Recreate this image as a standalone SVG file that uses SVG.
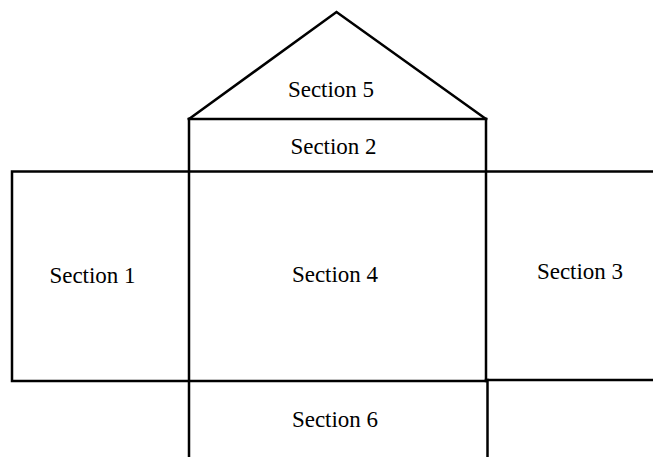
<svg xmlns="http://www.w3.org/2000/svg" width="653" height="457" viewBox="0 0 653 457">
  <style>
    .edge { fill: none; stroke: #000; stroke-width: 2.5; stroke-linejoin: miter; stroke-linecap: square; }
    .label { font-family: "Liberation Serif", "Times New Roman", serif; font-size: 23px; fill: #000; text-anchor: middle; }
  </style>
  <rect width="653" height="457" fill="#fff"/>
  <g id="connectors">
    <!-- outline of the folded net -->
    <polyline class="edge" points="189,119 336.5,12 486,119"/>
    <line class="edge" x1="189" y1="119" x2="486" y2="119"/>
    <polyline class="edge" points="653,171.5 12,171.5 12,381 486,381"/>
    <line class="edge" x1="486" y1="380" x2="653" y2="380"/>
    <line class="edge" x1="189" y1="119" x2="189" y2="457"/>
    <line class="edge" x1="486" y1="119" x2="486" y2="381"/>
    <line class="edge" x1="487.5" y1="380" x2="487.5" y2="457"/>
  </g>
  <g id="section5"><text class="label" x="331" y="97">Section 5</text></g>
  <g id="section2"><text class="label" x="333.5" y="154">Section 2</text></g>
  <g id="section1"><text class="label" x="92.5" y="283">Section 1</text></g>
  <g id="section4"><text class="label" x="335" y="282">Section 4</text></g>
  <g id="section3"><text class="label" x="580" y="279">Section 3</text></g>
  <g id="section6"><text class="label" x="335" y="427">Section 6</text></g>
</svg>
